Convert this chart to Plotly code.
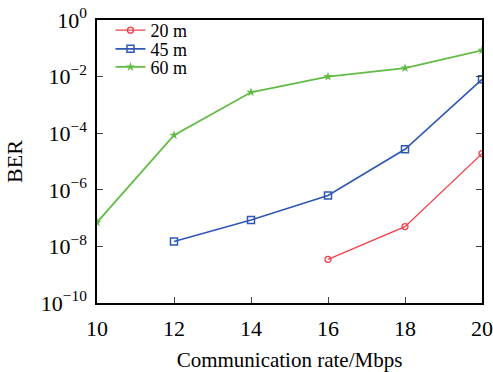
import plotly.graph_objects as go

rate = [10, 12, 14, 16, 18, 20]
x20 = [16, 18, 20]
ber20 = [3.5e-9, 5e-8, 1.9e-5]
x45 = [12, 14, 16, 18, 20]
ber45 = [1.5e-8, 8.5e-8, 6.3e-7, 2.7e-5, 8e-3]
x60 = [10, 12, 14, 16, 18, 20]
ber60 = [7e-8, 8.5e-5, 2.8e-3, 1.0e-2, 2.0e-2, 8.5e-2]

ytickvals = [1e0, 1e-2, 1e-4, 1e-6, 1e-8, 1e-10]
yticktext = ["10<sup>0</sup>", "10<sup>−2</sup>", "10<sup>−4</sup>", "10<sup>−6</sup>",
             "10<sup>−8</sup>", "10<sup>−10</sup>"]

font = "Liberation Serif"

fig = go.Figure()
fig.add_trace(go.Scatter(x=x20, y=ber20, name="20 m", mode="lines+markers", legend="legend",
                         line=dict(color="#f0414a", width=1.3),
                         marker=dict(symbol="circle-open", size=6, color="#f0414a", line=dict(width=1.3))))
fig.add_trace(go.Scatter(x=x45, y=ber45, name="45 m", mode="lines+markers", legend="legend2",
                         line=dict(color="#2f58b4", width=1.6),
                         marker=dict(symbol="square-open", size=7, color="#2f58b4", line=dict(width=1.5))))
fig.add_trace(go.Scatter(x=x60, y=ber60, name="60 m", mode="lines+markers", legend="legend3",
                         line=dict(color="#62bb44", width=1.8),
                         marker=dict(symbol="star", size=7, color="#62bb44")))

leg = dict(x=0.035, xanchor="left", yanchor="middle", bgcolor="rgba(0,0,0,0)",
           font=dict(size=18, family=font, color="black"), itemwidth=30)

fig.update_layout(
    width=493, height=372,
    margin=dict(l=97, r=11, t=20, b=69),
    plot_bgcolor="white", paper_bgcolor="white",
    font=dict(family=font, size=21, color="black"),
    showlegend=True,
    legend=dict(leg, y=0.963),
    legend2=dict(leg, y=0.897),
    legend3=dict(leg, y=0.833),
)
fig.update_xaxes(range=[10, 20], tickvals=rate, ticks="inside", ticklen=6, automargin=False,
                 ticklabelstandoff=5,
                 showline=True, linecolor="black", linewidth=1.5, mirror=True,
                 showgrid=False, zeroline=False,
                 tickfont=dict(size=22, family=font, color="black"),
                 title=dict(text="Communication rate/Mbps", font=dict(size=21, family=font, color="black"), standoff=12))
fig.update_yaxes(type="log", range=[-10, 0], tickvals=ytickvals, ticktext=yticktext,
                 ticks="inside", ticklen=6, automargin=False,
                 ticklabelstandoff=4,
                 showline=True, linecolor="black", linewidth=1.5, mirror="ticks",
                 showgrid=False, zeroline=False,
                 tickfont=dict(size=22, family=font, color="black"),
                 title=dict(text="BER", font=dict(size=22, family=font, color="black"), standoff=12))

fig.write_html("out.html", config={"displayModeBar": False},
               post_script="document.body.style.margin='0px';document.body.style.overflow='hidden';")
